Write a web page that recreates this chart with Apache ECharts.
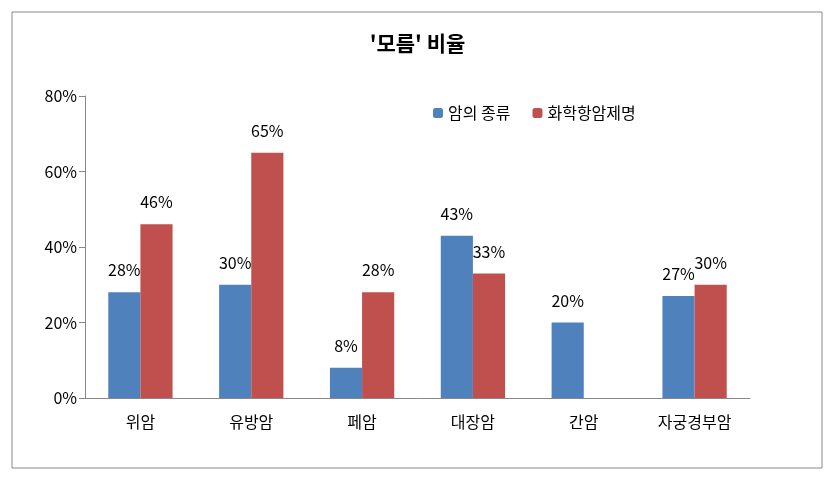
<!DOCTYPE html>
<html><head><meta charset="utf-8">
<script src="https://cdn.jsdelivr.net/npm/echarts@6/dist/echarts.min.js"></script>
<style>html,body{margin:0;padding:0;background:#fff}#c{width:835px;height:479px}</style>
</head><body><div id="c"></div>
<script>
const categories = ['위암','유방암','페암','대장암','간암','자궁경부암'];
const seriesNames = ['암의 종류','화학항암제명'];
const typeValues = [28,30,8,43,20,27];
const drugValues = [46,65,28,33,null,30];
const yTicks = [0,20,40,60,80];
const font = '"Noto Sans CJK KR", sans-serif';
const chart = echarts.init(document.getElementById('c'));
const lbl = {show:true,position:'top',distance:14,formatter:p=>p.value==null?'':p.value+'%',fontSize:16,color:'#000',fontFamily:font};
chart.setOption({
  animation:false,
  graphic:[{type:'rect',shape:{x:12,y:12,width:810,height:456},style:{fill:'none',stroke:'#888',lineWidth:1}}],
  title:{text:"'모름' 비율",left:'center',top:28,textStyle:{fontSize:21,fontWeight:'bold',color:'#000',fontFamily:font}},
  legend:{data:seriesNames,top:100,left:428,itemWidth:10,itemHeight:10,itemGap:22,textStyle:{fontSize:16,color:'#000',fontFamily:font}},
  grid:{left:85,right:85,top:96,bottom:81},
  xAxis:{type:'category',data:categories,axisLine:{lineStyle:{color:'#888'}},axisTick:{length:6,lineStyle:{color:'#888'}},
    axisLabel:{fontSize:16,color:'#000',margin:16,fontFamily:font}},
  yAxis:{type:'value',min:0,max:80,interval:20,axisLine:{show:true,lineStyle:{color:'#888'}},axisTick:{show:true,length:6,lineStyle:{color:'#888'}},
    splitLine:{show:false},axisLabel:{formatter:v=>v+'%',fontSize:16,color:'#000',fontFamily:font}},
  series:[
    {name:seriesNames[0],type:'bar',data:typeValues,barGap:0,barCategoryGap:'42%',itemStyle:{color:'#4F81BD'},label:lbl},
    {name:seriesNames[1],type:'bar',data:drugValues,itemStyle:{color:'#C0504D'},label:lbl}
  ]
});
</script></body></html>
